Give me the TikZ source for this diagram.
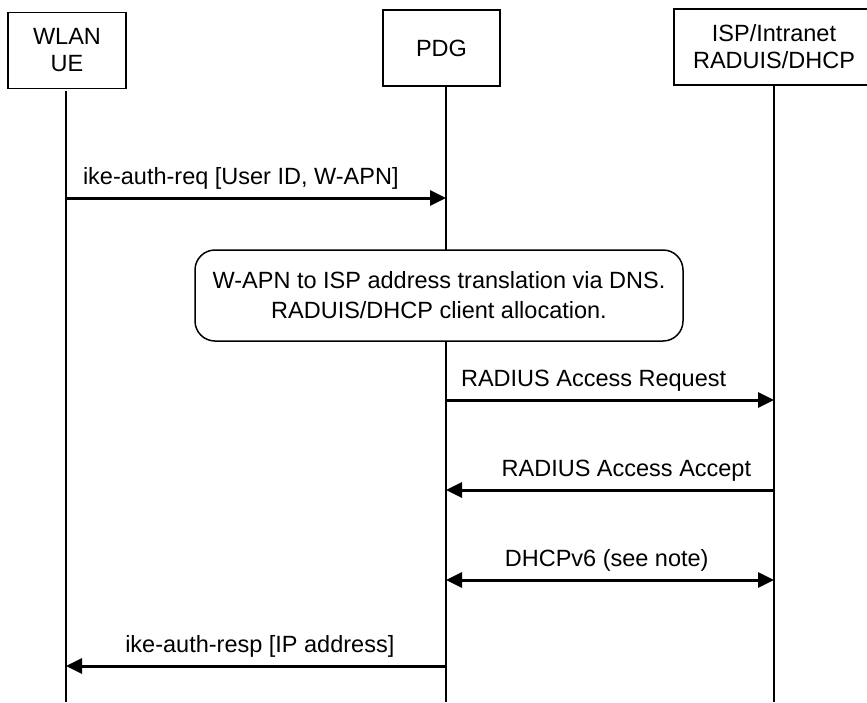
\documentclass[tikz,border=0pt]{standalone}
\usepackage{fontspec}
\setmainfont{Liberation Sans}
\usetikzlibrary{arrows.meta}

\begin{document}
\begin{tikzpicture}[x=1pt, y=-1pt, font=\fontsize{23.5}{27}\selectfont,
		entidade/.style={draw, line width=1.5pt, minimum height=76pt, inner sep=0pt, align=center},
		vida/.style={line width=1.6pt},
		msg/.style={line width=3pt, -{Triangle[length=16pt,width=15pt]}},
		rotulo/.style={above=12pt, inner sep=0pt, text depth=0pt},
		nota/.style={draw, fill=white, line width=1.5pt, rounded corners=20pt, minimum width=488pt,
			minimum height=91pt, align=center, font=\fontsize{23.5}{30}\selectfont}]
		\useasboundingbox (0,0) rectangle (867,702);
		
		% Entidades
		\node[entidade, minimum width=118pt] (ue)  at (67,50.5)  {WLAN\\UE};				% UE
		\node[entidade, minimum width=117pt] (pdg) at (441.5,48) {PDG};						% PDG
		\node[entidade, minimum width=200pt] (isp) at (774,47)   {ISP/Intranet\\RADUIS/DHCP};	% ISP
		
		% Linhas de vida
		\coordinate (ueT)  at (66,91);		\coordinate (ueB)  at (66,702);
		\coordinate (pdgT) at (446,86);		\coordinate (pdgB) at (446,702);
		\coordinate (ispT) at (774,85);		\coordinate (ispB) at (774,702);
		\draw[vida] (ueT) -- (ueB);
		\draw[vida] (pdgT) -- (pdgB);
		\draw[vida] (ispT) -- (ispB);
		
		% Nota
		\node[nota] (dns) at (439,295.5) {W-APN to ISP address translation via DNS.\\RADUIS/DHCP client allocation.};
		
		% Mensagens
		\coordinate (m1) at (0,198);
		\coordinate (m2) at (0,400);
		\coordinate (m3) at (0,490);
		\coordinate (m4) at (0,580);
		\coordinate (m5) at (0,666);
		
		\draw[msg] (ueT |- m1)  -- (pdgT |- m1) node[rotulo, pos=0.46] {ike-auth-req [User ID, W-APN]};
		\draw[msg] (pdgT |- m2) -- (ispT |- m2) node[rotulo, pos=0.45] {RADIUS Access Request};
		\draw[msg] (ispT |- m3) -- (pdgT |- m3) node[rotulo, pos=0.45] {RADIUS Access Accept};
		\draw[msg, {Triangle[length=16pt,width=15pt]}-{Triangle[length=16pt,width=15pt]}]
			(pdgT |- m4) -- (ispT |- m4) node[rotulo, pos=0.49] {DHCPv6 (see note)};
		\draw[msg] (pdgT |- m5) -- (ueT |- m5)  node[rotulo, pos=0.49] {ike-auth-resp [IP address]};
	\end{tikzpicture}
\end{document}
